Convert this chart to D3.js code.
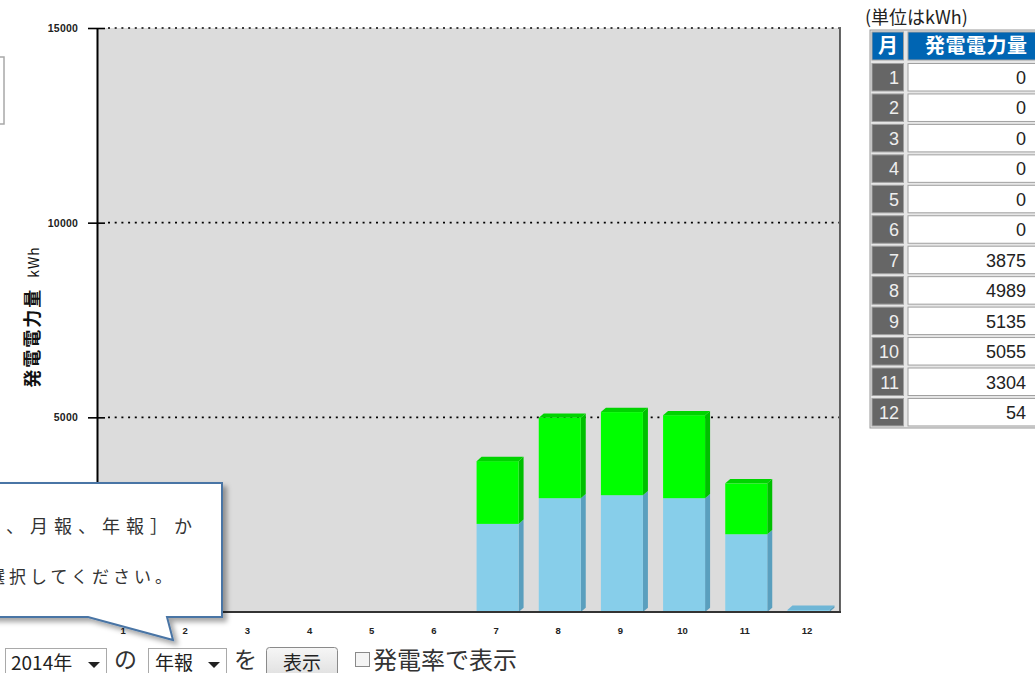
<!DOCTYPE html>
<html>
<head>
<meta charset="utf-8">
<script src="https://cdn.jsdelivr.net/npm/d3@7"></script>
<style>
  body { margin: 0; background: #fff; overflow: hidden; }
  svg { display: block; }
  text { font-family: "Liberation Sans", Arial, sans-serif; }
  .jp { font-family: "Noto Sans CJK JP", sans-serif; }
</style>
</head>
<body>
<script>
// Data
const months = [1, 2, 3, 4, 5, 6, 7, 8, 9, 10, 11, 12];
const lowerValues = [0, 0, 0, 0, 0, 0, 2263, 2923, 3000, 2923, 1997, 54];
const upperValues = [0, 0, 0, 0, 0, 0, 1612, 2066, 2135, 2132, 1307, 0];
const tableValues = [0, 0, 0, 0, 0, 0, 3875, 4989, 5135, 5055, 3304, 54];
const yTicks = [0, 5000, 10000, 15000];

//   Parameters
const w = 1035;
const h = 673;
const plotLeft = 97;
const plotRight = 840;
const plotTop = 28;
const plotBottom = 612;
const depthX = 5;
const depthY = 4.3;
const faceW = 42;

const svg = d3.select("body").append("svg").attr("width", w).attr("height", h);

const defs = svg.append("defs");
const shadow = defs.append("filter").attr("id", "shadow")
  .attr("x", "-10%").attr("y", "-10%").attr("width", "130%").attr("height", "140%");
shadow.append("feDropShadow")
  .attr("dx", 4).attr("dy", 4).attr("stdDeviation", 2.5)
  .attr("flood-color", "#000").attr("flood-opacity", 0.35);

//   Scales
const xScale = d3.scaleBand().domain(months).range([92, 838]);
const yScale = d3.scaleLinear().domain([0, 15000]).range([plotBottom, plotTop]);

//   Plot background
svg.append("rect")
  .attr("x", plotLeft).attr("y", plotTop)
  .attr("width", plotRight - plotLeft).attr("height", plotBottom - plotTop)
  .attr("fill", "#dcdcdc");

svg.append("line")
  .attr("x1", plotRight).attr("x2", plotRight)
  .attr("y1", plotTop - 1).attr("y2", plotBottom)
  .attr("stroke", "#333").attr("stroke-width", 1.5);

//   Grid lines
svg.append("g")
  .selectAll("line")
  .data(yTicks.filter((d) => d > 0))
  .join("line")
  .attr("x1", 108).attr("x2", plotRight - 1)
  .attr("y1", (d) => yScale(d)).attr("y2", (d) => yScale(d))
  .attr("stroke", "#000").attr("stroke-width", 1.6)
  .attr("stroke-dasharray", "2,4.7");

//   Y axis
const yAxis = d3.axisLeft(yScale)
  .tickValues(yTicks)
  .tickFormat(d3.format("d"))
  .tickSize(9).tickSizeOuter(0).tickPadding(10);
const yG = svg.append("g")
  .attr("transform", "translate(" + plotLeft + ",0)")
  .call(yAxis);
yG.select(".domain").attr("stroke", "#000").attr("stroke-width", 2);
yG.selectAll(".tick line").attr("x1", -9).attr("x2", 8).attr("stroke", "#000").attr("stroke-width", 1.6);
yG.selectAll(".tick text")
  .attr("font-size", 10.5).attr("font-weight", "bold").attr("fill", "#222")
  .attr("letter-spacing", "0.2px");

//   Y axis title
const yTitle = svg.append("text")
  .attr("class", "jp")
  .attr("transform", "translate(39,317) rotate(-90)")
  .attr("text-anchor", "middle")
  .attr("font-size", 18)
  .attr("fill", "#111");
yTitle.append("tspan").attr("font-weight", "bold").attr("letter-spacing", "2px").text("発電電力量");
yTitle.append("tspan").attr("dx", 10).attr("font-size", 14).attr("letter-spacing", "1px").text("kWh");

//   Stacked 3D bars
const rows = months.map((m, i) => ({ month: m, lower: lowerValues[i], upper: upperValues[i] }));
const stacked = d3.stack().keys(["lower", "upper"])(rows);
const colors = {
  lower: { face: "#87ceea", side: "#5a9fbe", top: "#6fb6d6" },
  upper: { face: "#00ff00", side: "#00bf00", top: "#00d400" }
};

stacked.forEach((layer, li) => {
  const c = colors[layer.key];
  const g = svg.append("g");
  layer.forEach((d, i) => {
    const v0 = d[0];
    const v1 = d[1];
    if (v1 - v0 <= 0) return;
    const cx = xScale(months[i]) + xScale.bandwidth() / 2;
    const x0 = cx - 19.5;
    const x1 = x0 + faceW;
    const yTop = yScale(v1);
    const yBot = yScale(v0);
    // side
    g.append("polygon")
      .attr("points", [[x1, yBot], [x1, yTop], [x1 + depthX, yTop - depthY], [x1 + depthX, yBot - depthY]].join(" "))
      .attr("fill", c.side);
    // front face
    g.append("rect")
      .attr("x", x0).attr("y", yTop)
      .attr("width", faceW).attr("height", yBot - yTop)
      .attr("fill", c.face);
    // top (only on the topmost segment)
    const isTop = li === stacked.length - 1 || stacked[li + 1][i][1] - stacked[li + 1][i][0] <= 0;
    if (isTop) {
      g.append("polygon")
        .attr("points", [[x0, yTop], [x0 + depthX, yTop - depthY], [x1 + depthX, yTop - depthY], [x1, yTop]].join(" "))
        .attr("fill", c.top);
    }
  });
});

//   X axis
const xAxis = d3.axisBottom(xScale).tickSize(0).tickPadding(15);
const xG = svg.append("g")
  .attr("transform", "translate(0," + plotBottom + ")")
  .call(xAxis);
xG.select(".domain").remove();
xG.selectAll(".tick text")
  .attr("font-size", 9.5).attr("font-weight", "bold").attr("fill", "#222");
svg.append("line")
  .attr("x1", plotLeft - 1).attr("x2", plotRight + 1)
  .attr("y1", plotBottom).attr("y2", plotBottom)
  .attr("stroke", "#333").attr("stroke-width", 2);

//   Partial box on the far left
svg.append("rect")
  .attr("x", -10).attr("y", 57).attr("width", 14).attr("height", 67)
  .attr("fill", "#fff").attr("stroke", "#a8a8a8").attr("stroke-width", 1.5);

//   Table
const tX = 870;
const tTop = 30;
const rowTop0 = 63.5;
const rowPitch = 30.45;
const rowH = 27.5;

svg.append("text")
  .attr("class", "jp")
  .attr("x", 865).attr("y", 24)
  .attr("font-size", 18).attr("fill", "#222")
  .text("(単位はkWh)");

svg.append("rect")
  .attr("x", tX).attr("y", tTop).attr("width", 200).attr("height", 398)
  .attr("fill", "#e6e6e6").attr("stroke", "#9a9a9a").attr("stroke-width", 1);

// header
svg.append("rect").attr("x", 872).attr("y", 32).attr("width", 31.5).attr("height", 28)
  .attr("fill", "#0065b3").attr("stroke", "#a0a0a0");
svg.append("rect").attr("x", 908).attr("y", 32).attr("width", 140).attr("height", 28)
  .attr("fill", "#0065b3").attr("stroke", "#a0a0a0");
svg.append("text").attr("class", "jp")
  .attr("x", 888).attr("y", 53).attr("text-anchor", "middle")
  .attr("font-size", 20).attr("font-weight", "bold").attr("fill", "#fff").text("月");
svg.append("text").attr("class", "jp")
  .attr("x", 925).attr("y", 53)
  .attr("font-size", 20).attr("font-weight", "bold").attr("fill", "#fff")
  .attr("letter-spacing", "0.5px").text("発電電力量");

const tRows = svg.append("g")
  .selectAll("g")
  .data(months)
  .join("g")
  .attr("transform", (d, i) => "translate(0," + (rowTop0 + i * rowPitch) + ")");
tRows.append("rect").attr("x", 872).attr("y", 0).attr("width", 31.5).attr("height", rowH)
  .attr("fill", "#666").attr("stroke", "#a0a0a0");
tRows.append("rect").attr("x", 908).attr("y", 0).attr("width", 140).attr("height", rowH)
  .attr("fill", "#fff").attr("stroke", "#a0a0a0");
tRows.append("text")
  .attr("x", 899).attr("y", 20.5).attr("text-anchor", "end")
  .attr("font-size", 18).attr("fill", "#eee")
  .text((d) => d);
tRows.append("text")
  .attr("x", 1026).attr("y", 20.5).attr("text-anchor", "end")
  .attr("font-size", 18).attr("fill", "#222")
  .text((d, i) => tableValues[i]);

//   Controls at the bottom
const ctrl = svg.append("g");
ctrl.append("rect").attr("x", 5.5).attr("y", 648.5).attr("width", 101).attr("height", 32)
  .attr("fill", "#fff").attr("stroke", "#a9a9a9");
ctrl.append("text").attr("class", "jp").attr("x", 11).attr("y", 670)
  .attr("font-size", 19).attr("fill", "#222").text("2014年");
ctrl.append("path").attr("d", "M88,662 L100,662 L94,668 Z").attr("fill", "#222");
ctrl.append("text").attr("class", "jp").attr("x", 114).attr("y", 668)
  .attr("font-size", 23).attr("fill", "#333").text("の");
ctrl.append("rect").attr("x", 148.5).attr("y", 648.5).attr("width", 78).attr("height", 32)
  .attr("fill", "#fff").attr("stroke", "#a9a9a9");
ctrl.append("text").attr("class", "jp").attr("x", 155).attr("y", 670)
  .attr("font-size", 19).attr("fill", "#222").text("年報");
ctrl.append("path").attr("d", "M208,662 L220,662 L214,668 Z").attr("fill", "#222");
ctrl.append("text").attr("class", "jp").attr("x", 234).attr("y", 668)
  .attr("font-size", 23).attr("fill", "#333").text("を");

const btnGrad = defs.append("linearGradient").attr("id", "btn").attr("x1", 0).attr("x2", 0).attr("y1", 0).attr("y2", 1);
btnGrad.append("stop").attr("offset", "0%").attr("stop-color", "#f6f6f6");
btnGrad.append("stop").attr("offset", "100%").attr("stop-color", "#dcdcdc");
ctrl.append("rect").attr("x", 266.5).attr("y", 647.5).attr("width", 71).attr("height", 34).attr("rx", 3)
  .attr("fill", "url(#btn)").attr("stroke", "#8a8a8a");
ctrl.append("text").attr("class", "jp").attr("x", 302).attr("y", 670).attr("text-anchor", "middle")
  .attr("font-size", 19).attr("fill", "#222").text("表示");

ctrl.append("rect").attr("x", 355.5).attr("y", 652.5).attr("width", 14).attr("height", 14)
  .attr("fill", "#f4f4f4").attr("stroke", "#8a8a8a");
ctrl.append("text").attr("class", "jp").attr("x", 373).attr("y", 669)
  .attr("font-size", 24).attr("fill", "#333").text("発電率で表示");

//   Callout
const callout = svg.append("g");
callout.append("path")
  .attr("d", "M-10,483 L222,483 L222,617 L167,617 L173,640 L88,617 L-10,617 Z")
  .attr("fill", "#fff").attr("stroke", "#4a75a5").attr("stroke-width", 2)
  .attr("filter", "url(#shadow)");
callout.append("text").attr("class", "jp")
  .attr("x", 198).attr("y", 533).attr("text-anchor", "end")
  .attr("font-size", 18).attr("fill", "#333").attr("letter-spacing", "6px")
  .text("［日報、月報、年報］か");
callout.append("text").attr("class", "jp")
  .attr("x", 176).attr("y", 583).attr("text-anchor", "end")
  .attr("font-size", 17).attr("fill", "#333").attr("letter-spacing", "4px")
  .text("ら選択してください。");
</script>
</body>
</html>
